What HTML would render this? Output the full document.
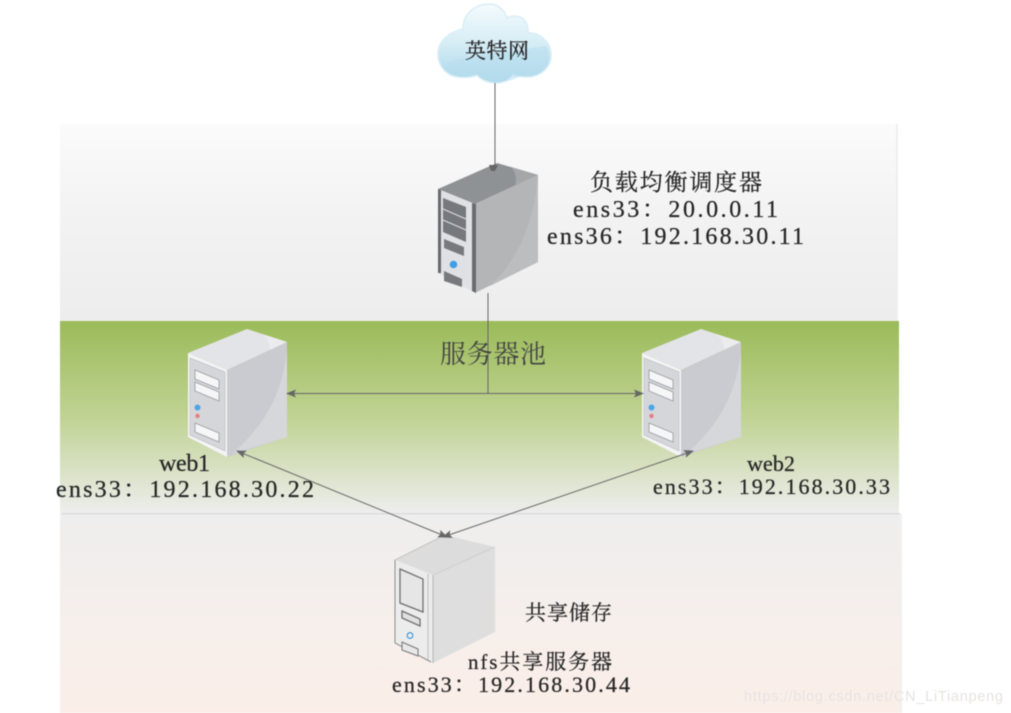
<!DOCTYPE html>
<html><head><meta charset="utf-8"><style>
html,body{margin:0;padding:0;background:#fff;width:1011px;height:713px;overflow:hidden}
svg{display:block}
text{fill:#262626;stroke:#262626;stroke-width:.25px;font-family:"Liberation Serif","Noto Serif CJK SC",serif}
.g{filter:blur(.45px)}
</style></head><body>
<svg width="1011" height="713" viewBox="0 0 1011 713" xmlns="http://www.w3.org/2000/svg">
<defs>
<linearGradient id="p1" x1="0" y1="0" x2="0" y2="1"><stop offset="0" stop-color="#fbfbfb"/><stop offset=".45" stop-color="#f3f3f3"/><stop offset="1" stop-color="#ededed"/></linearGradient>
<linearGradient id="p2" x1="0" y1="0" x2="0" y2="1"><stop offset="0" stop-color="#9bbb59"/><stop offset=".5" stop-color="#c0d394"/><stop offset="1" stop-color="#eeeeee"/></linearGradient>
<linearGradient id="p3" x1="0" y1="0" x2="0" y2="1"><stop offset="0" stop-color="#eeeeee"/><stop offset=".6" stop-color="#f7efeb"/><stop offset="1" stop-color="#fbeee8"/></linearGradient>
<linearGradient id="cl" x1="0" y1="0" x2="0" y2="1"><stop offset="0" stop-color="#f4fbfd"/><stop offset=".5" stop-color="#d6edf5"/><stop offset="1" stop-color="#a8d6ea"/></linearGradient>
<marker id="a" viewBox="0 0 10 8" refX="9" refY="4" markerWidth="10" markerHeight="8" markerUnits="userSpaceOnUse" orient="auto-start-reverse"><path d="M0 0L10 4L0 8L2 4Z" fill="#666"/></marker>
</defs>

<g class="g">
<!-- panels -->
<rect x="60" y="124" width="837" height="197" fill="url(#p1)"/>
<rect x="896" y="124" width="2" height="197" fill="#efefef"/>
<rect x="60" y="321" width="839" height="193" fill="url(#p2)"/>
<rect x="60" y="514" width="842" height="199" fill="url(#p3)"/>
<rect x="62" y="513" width="838" height="1.500" fill="#dcdcdc"/>
<rect x="900" y="514" width="2" height="199" fill="#f0f0f0"/>

<!-- cloud -->
<path d="M463 29C463 13 476 4 490 4C498 4 504 10 507 18C512 15 521 15 525 21C528 25 528 29 528 33C540 32 551 42 551 55C551 68 540 77 527 77C521 77 516 76 513 75C508 81 503 83 497 83C488 83 481 80 477 75C470 78 460 78 453 76C444 73 438 64 438 54C438 41 449 32 463 29Z" fill="url(#cl)" stroke="#d9eef6" stroke-width="1.500"/>
<path d="M441 65C456 58 480 55 500 53L546 46C549 50 550 60 548 64C541 75 528 77 520 76C510 83 488 85 477 75C466 79 448 77 441 65Z" fill="#b8deee" opacity=".55"/>

<!-- LB server -->
<g>
<path d="M438 189L497 163L538 175L475 204Z" fill="#8f9294"/>
<path d="M511 167L538 175L515 186C517 180 516 172 511 167Z" fill="#a4a6a8"/>
<path d="M475 204L538 175V262L475 293Z" fill="#b3b5b7"/>
<path d="M538 175V262L490 286C516 262 534 225 538 175Z" fill="#bbbdbf"/>
<path d="M438 189L475 204V293L438 273Z" fill="#dfe1e4"/>
<path d="M438 189L441 190V273L438 273Z" fill="#66696d"/>
<path d="M472 203L476 204V293L472 291Z" fill="#686b6f"/>
<path d="M443 198L466 207V242L443 232Z" fill="#75787c"/>
<path d="M443 209L466 219M443 220L466 230" stroke="#dfe1e4" stroke-width="1"/>
<path d="M444 239L464 247V256L444 248Z" fill="#77797c"/>
<circle cx="453.500" cy="264.500" r="3.800" fill="#3f9fe6"/>
<path d="M444 271L462 279V287L444 281Z" fill="#77797c"/>
</g>

<!-- web1 -->
<g>
<path d="M188 353L247 329L287 342L227 370Z" fill="#e3e4e7"/>
<path d="M262 334L287 342L270 350C270 344 268 338 262 334Z" fill="#ececee"/>
<path d="M227 370L287 342V437L227 457Z" fill="#c9cbd0"/>
<path d="M287 350C283 395 262 428 232 454L287 437Z" fill="#d6d7db"/>
<path d="M188 353L227 370V457L188 437Z" fill="#f4f4f6"/>
<path d="M190 358L225 372V451L190 435Z" fill="#d4d6da" stroke="#c0c1c6" stroke-width=".7"/>
<path d="M195 370L219 380V389L195 379Z" fill="#f6f6f7" stroke="#97999e" stroke-width=".8"/>
<path d="M195 382L219 392V401L195 391Z" fill="#f6f6f7" stroke="#97999e" stroke-width=".8"/>
<path d="M195 423L219 433V442L195 432Z" fill="#f6f6f7" stroke="#97999e" stroke-width=".8"/>
<circle cx="197.500" cy="407.500" r="3" fill="#4ea5e6"/>
<circle cx="197.500" cy="416" r="2.200" fill="#e87a84"/>
</g>
<!-- web2 -->
<g transform="translate(454 0)">
<path d="M188 353L247 329L287 342L227 370Z" fill="#e3e4e7"/>
<path d="M262 334L287 342L270 350C270 344 268 338 262 334Z" fill="#ececee"/>
<path d="M227 370L287 342V437L227 457Z" fill="#c9cbd0"/>
<path d="M287 350C283 395 262 428 232 454L287 437Z" fill="#d6d7db"/>
<path d="M188 353L227 370V457L188 437Z" fill="#f4f4f6"/>
<path d="M190 358L225 372V451L190 435Z" fill="#d4d6da" stroke="#c0c1c6" stroke-width=".7"/>
<path d="M195 370L219 380V389L195 379Z" fill="#f6f6f7" stroke="#97999e" stroke-width=".8"/>
<path d="M195 382L219 392V401L195 391Z" fill="#f6f6f7" stroke="#97999e" stroke-width=".8"/>
<path d="M195 423L219 433V442L195 432Z" fill="#f6f6f7" stroke="#97999e" stroke-width=".8"/>
<circle cx="197.500" cy="407.500" r="3" fill="#4ea5e6"/>
<circle cx="197.500" cy="416" r="2.200" fill="#e87a84"/>
</g>

<!-- nfs -->
<g>
<path d="M395 560L445 535L495 547L433 575Z" fill="#dcdcdc"/>
<path d="M433 575L495 547V632L433 663Z" fill="#dedede"/>
<path d="M395 560L433 575V663L395 643Z" fill="#ececec"/>
<path d="M395 560V643L431 662" fill="none" stroke="#8c8c8c" stroke-width="1"/>
<path d="M395 560L445 535" stroke="#bdbdbd" stroke-width=".8"/>
<path d="M428 574V660" stroke="#bbb" stroke-width="1"/>
<path d="M433 575V663" stroke="#b5b5b5" stroke-width="1"/>
<path d="M433 575L495 547" stroke="#cfcfcf" stroke-width="1"/>
<path d="M400 569L423 579V612L400 603Z" fill="#e6e6e6" stroke="#6f6f6f" stroke-width="1.300"/>
<path d="M402 611L420 619V626L402 618Z" fill="#e0e0e0" stroke="#6f6f6f" stroke-width="1.300"/>
<circle cx="410" cy="635.500" r="2.800" fill="#f0f0f0" stroke="#4e9fd8" stroke-width="1.300"/>
<path d="M402 642L418 649V656L402 650Z" fill="#e8e8e8" stroke="#777" stroke-width="1"/>
</g>

<!-- connectors -->
<g fill="none" stroke="#666" stroke-width="1">
<path d="M495 83V170"/>
<path d="M488 293V393"/>
<path d="M287 393.500H643" marker-start="url(#a)" marker-end="url(#a)"/>
<path d="M237 451L447 537" marker-start="url(#a)" marker-end="url(#a)"/>
<path d="M693 451L443 537" marker-start="url(#a)" marker-end="url(#a)"/>
</g>
<path d="M489 165L498 165L495 171L491 171Z" fill="#666"/>

<!-- labels -->
<text x="465" y="58" font-size="21" textLength="64" lengthAdjust="spacing">英特网</text>
<text x="590" y="190" font-size="23" textLength="172" lengthAdjust="spacing">负载均衡调度器</text>
<text x="573" y="217" font-size="24" textLength="205" lengthAdjust="spacing">ens33：20.0.0.11</text>
<text x="547" y="244" font-size="24" textLength="257" lengthAdjust="spacing">ens36：192.168.30.11</text>
<text x="440" y="363" font-size="26" textLength="106" lengthAdjust="spacing" style="fill:#444;stroke:none">服务器池</text>
<text x="159" y="471" font-size="24" textLength="51" lengthAdjust="spacing">web1</text>
<text x="56" y="497" font-size="24" textLength="258" lengthAdjust="spacing">ens33：192.168.30.22</text>
<text x="747" y="471" font-size="22" textLength="48" lengthAdjust="spacing">web2</text>
<text x="653" y="494" font-size="22" textLength="237" lengthAdjust="spacing">ens33：192.168.30.33</text>
<text x="525" y="620" font-size="21" textLength="87" lengthAdjust="spacing">共享储存</text>
<text x="468" y="669" font-size="21" textLength="144" lengthAdjust="spacing">nfs共享服务器</text>
<text x="392" y="692" font-size="22" textLength="238" lengthAdjust="spacing">ens33：192.168.30.44</text>
<text x="744" y="701" font-size="14.500" textLength="259" lengthAdjust="spacing" style="fill:#e6e3e1;stroke:none;font-family:'Liberation Sans',sans-serif">https://blog.csdn.net/CN_LiTianpeng</text>
</g>
</svg>
</body></html>
